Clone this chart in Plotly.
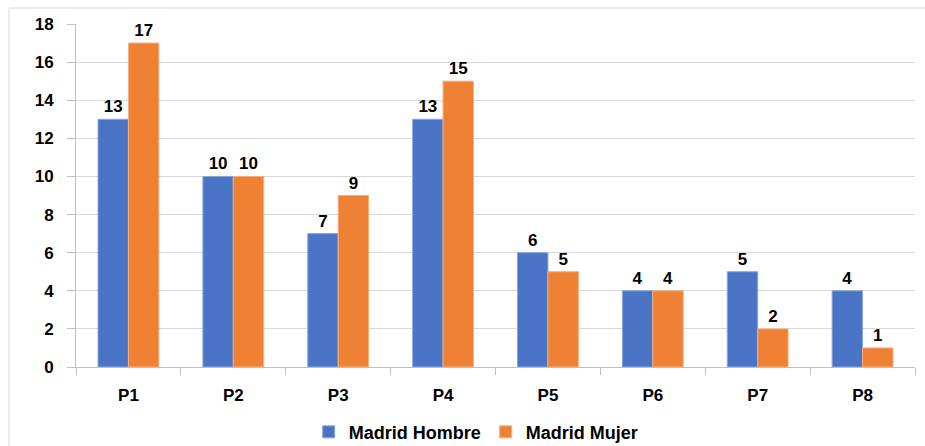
import plotly.graph_objects as go

# Categories and series values
categorias = ["P1", "P2", "P3", "P4", "P5", "P6", "P7", "P8"]
hombre = [13, 10, 7, 13, 6, 4, 5, 4]
mujer = [17, 10, 9, 15, 5, 4, 2, 1]
y_ticks = [0, 2, 4, 6, 8, 10, 12, 14, 16, 18]

FONT = "Liberation Sans, Arial, sans-serif"
BLUE = "#4a74c6"
ORANGE = "#ef8134"
FS = 17

fig = go.Figure()
fig.add_trace(go.Bar(
    x=categorias, y=hombre, name="Madrid Hombre",
    marker=dict(color=BLUE, line=dict(color="#8aa6dc", width=1)),
    text=hombre, textposition="outside", cliponaxis=False,
    textfont=dict(family=FONT, size=FS, color="black"),
    texttemplate="<b>%{text}</b>",
))
fig.add_trace(go.Bar(
    x=categorias, y=mujer, name="Madrid Mujer",
    marker=dict(color=ORANGE, line=dict(color="#f5b07e", width=1)),
    text=mujer, textposition="outside", cliponaxis=False,
    textfont=dict(family=FONT, size=FS, color="black"),
    texttemplate="<b>%{text}</b>",
))

fig.update_layout(
    width=925, height=446,
    margin=dict(l=76, r=10, t=24, b=79, autoexpand=False),
    paper_bgcolor="white", plot_bgcolor="white",
    barmode="group", bargap=0.42, bargroupgap=0,
    font=dict(family=FONT, size=FS, color="black"),
    showlegend=True,
    legend=dict(
        orientation="h", x=0.477, xanchor="center", y=-0.19, yanchor="middle",
        font=dict(family=FONT, size=18, color="black", weight="bold"),
        itemwidth=30, tracegroupgap=0,
    ),
    shapes=[dict(
        type="rect", xref="paper", yref="paper",
        x0=-0.0799, x1=1.2, y0=-0.5, y1=1.0466,
        line=dict(color="#d9d9d9", width=1), fillcolor="rgba(0,0,0,0)",
        layer="below",
    )],
)

fig.update_xaxes(
    showline=True, linecolor="#bfbfbf", linewidth=1,
    ticks="outside", tickson="boundaries", ticklen=7, tickcolor="#bfbfbf",
    ticklabelstandoff=13,
    tickfont=dict(family=FONT, size=FS, color="black", weight="bold"),
    showgrid=False,
)
fig.update_yaxes(
    range=[0, 18], tickvals=y_ticks,
    showline=True, linecolor="#bfbfbf", linewidth=1,
    ticks="outside", ticklen=8, tickcolor="#bfbfbf",
    ticklabelstandoff=10,
    showgrid=True, gridcolor="#d9d9d9", gridwidth=1,
    zeroline=False,
    tickfont=dict(family=FONT, size=FS, color="black", weight="bold"),
)

fig.write_html("out.html")
